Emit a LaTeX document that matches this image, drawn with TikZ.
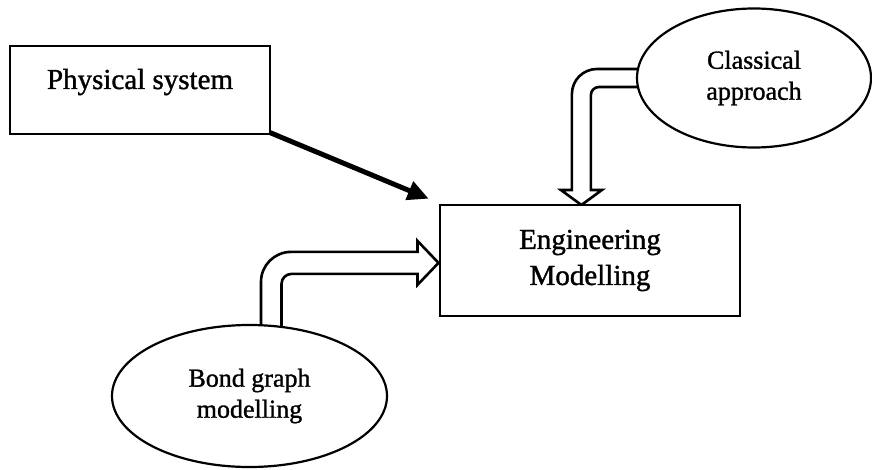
\documentclass[tikz,border=0pt]{standalone}
\usepackage{fontspec}
\setmainfont{Liberation Serif}[FakeBold=1.2]
\usetikzlibrary{arrows.meta,backgrounds,shapes.geometric}
\begin{document}
\begin{tikzpicture}[x=1pt,y=-1pt,
  boxnode/.style={draw, line width=2.6pt, fill=white, inner sep=0pt},
  ellnode/.style={draw, ellipse, line width=2.2pt, fill=white, inner sep=0pt, align=center,
    font=\fontsize{26}{31}\selectfont},
  hollow/.style={draw, line width=2.6pt, fill=white, line join=miter},
  thickarrow/.style={draw, line width=5pt, -{Triangle[length=21pt,width=19pt]}}]
\useasboundingbox (0,0) rectangle (872,470);
\node[boxnode, minimum width=260pt, minimum height=88pt] (phys) at (140,90) {};
\node[anchor=base, font=\fontsize{29}{35}\selectfont, inner sep=0pt] (physT) at ([shift={(0,-1)}]phys.center) {Physical system};
\node[boxnode, minimum width=300pt, minimum height=111pt, align=center,
  font=\fontsize{29}{36}\selectfont] (eng) at (590,260.5) {Engineering\\Modelling};
\node[ellnode, minimum width=234pt, minimum height=139pt] (cls) at (754,78) {Classical\\approach};
\node[ellnode, minimum width=275pt, minimum height=142pt] (bond) at (249.5,396) {Bond graph\\modelling};
\draw[thickarrow] ([shift={(-2,-3)}]phys.south east) -- ([shift={(-10,-5)}]eng.north west);
\begin{scope}[on background layer]
\draw[hollow] ([shift={(5,-9)}]cls.west) -- ++(-44,0)
  arc[start angle=90,end angle=180,radius=25pt] -- ++(0,96) -- ++(-11,0)
  -- ++(20.5,15) -- ++(20.5,-15) -- ++(-11,0) -- ++(0,-95)
  arc[start angle=180,end angle=90,radius=8pt] -- ++(42,0);
\draw[hollow] ([shift={(11.5,5)}]bond.north) -- ++(0,-47)
  arc[start angle=180,end angle=90,radius=30pt] -- ++(126.5,0) -- ++(0,-11)
  -- ++(21,22) -- ++(-21,22) -- ++(0,-11) -- ++(-126,0)
  arc[start angle=90,end angle=180,radius=10pt] -- ++(0,45);
\end{scope}
\end{tikzpicture}
\end{document}
